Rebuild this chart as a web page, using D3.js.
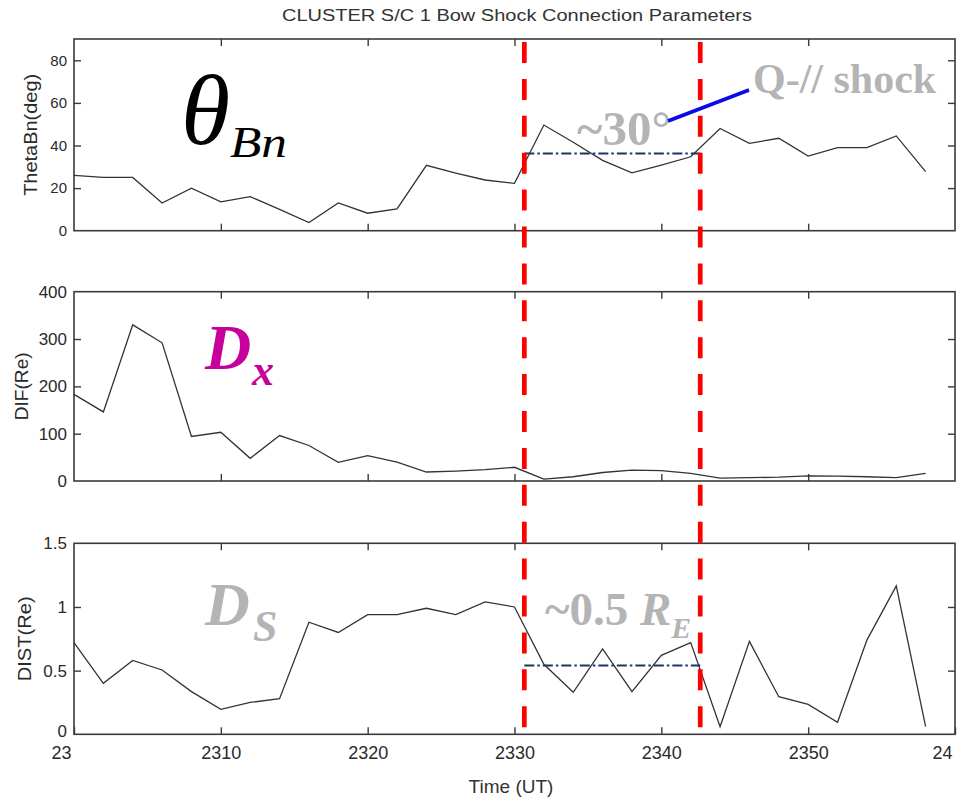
<!DOCTYPE html>
<html>
<head>
<meta charset="utf-8">
<script src="https://cdn.jsdelivr.net/npm/d3@7"></script>
<style>
  html, body { margin: 0; padding: 0; background: #fff; }
  svg { display: block; }
</style>
</head>
<body>
<svg id="chart" width="960" height="798"></svg>
<script>
// ---- Data (minutes after 23:00 UT) ----
const times = [0,2,4,6,8,10,12,14,16,18,20,22,24,26,28,30,32,34,36,38,40,42,44,46,48,50,52,54,56,58];
const thetaBn = [26,25,25,13,20,13.5,16,10,3.8,13,8.2,10.2,30.7,27,23.8,22.2,49.6,41.5,33,27.2,30.8,34.7,48,41,43.4,35,39,39,44.5,27.7];
const difRe  = [183,146,330,292,94,103,48,96,75,39.5,53.5,40,19,21,24,29,4,9,18,23,22,16,6,7,8,11,10.5,9,7,16];
const distRe = [0.72,0.40,0.58,0.505,0.335,0.196,0.25,0.28,0.88,0.80,0.94,0.94,0.99,0.94,1.04,1.0,0.55,0.33,0.67,0.335,0.62,0.72,0.06,0.73,0.295,0.235,0.094,0.74,1.165,0.06];

const xTickValues = [0,10,20,30,40,50,60];
const xTickLabels = ["23","2310","2320","2330","2340","2350","24"];
const thetaTicks = [0,20,40,60,80];
const difTicks = [0,100,200,300,400];
const distTicks = [0,0.5,1,1.5];

const eventTimes = [30.67, 42.65];   // red dashed markers
const thetaRef = 36.3;               // ~30 deg reference level
const distRef = 0.54;                // ~0.5 RE reference level

// ---- Layout ----
const svg = d3.select("#chart");
const left = 74, right = 955;
const x = d3.scaleLinear().domain([0,60]).range([left,right]);

const panels = [
  {top:39, bottom:230.7, domain:[0,90], ticks:thetaTicks, values:thetaBn, label:"ThetaBn(deg)", labelX:37, labelLen:122, tickFont:15},
  {top:291.7, bottom:481, domain:[0,400], ticks:difTicks, values:difRe, label:"DIF(Re)", labelX:28, labelLen:68, tickFont:17},
  {top:543.3, bottom:734.3, domain:[0,1.5], ticks:distTicks, values:distRe, label:"DIST(Re)", labelX:31, labelLen:85, tickFont:17}
];

const sans = "'Liberation Sans', Arial, Helvetica, sans-serif";
const serif = "'Liberation Serif', 'Times New Roman', Times, serif";
const axisColor = "#3a3a3a";

panels.forEach((p, i) => {
  const y = d3.scaleLinear().domain(p.domain).range([p.bottom, p.top]);
  p.y = y;
  const g = svg.append("g");
  const isLast = i === panels.length - 1;

  // left axis (inner ticks)
  const gl = g.append("g").attr("transform", `translate(${left},0)`)
    .call(d3.axisLeft(y).tickValues(p.ticks).tickSize(-7).tickSizeOuter(0).tickPadding(7)
      .tickFormat(d3.format("")));
  // right axis
  const gr = g.append("g").attr("transform", `translate(${right},0)`)
    .call(d3.axisRight(y).tickValues(p.ticks.filter(t => t !== p.domain[0] && t !== p.domain[1])).tickSize(-7).tickSizeOuter(0).tickFormat(""));
  // top axis
  const gt = g.append("g").attr("transform", `translate(0,${p.top})`)
    .call(d3.axisTop(x).tickValues(xTickValues.slice(1,-1)).tickSize(-7).tickSizeOuter(0).tickFormat(""));
  // bottom axis
  const gb = g.append("g").attr("transform", `translate(0,${p.bottom})`)
    .call(d3.axisBottom(x).tickValues(isLast ? xTickValues : xTickValues.slice(1,-1)).tickSize(-7).tickSizeOuter(0).tickPadding(12)
      .tickFormat(isLast ? ((d) => xTickLabels[xTickValues.indexOf(d)]) : ""));

  [gl, gr, gt, gb].forEach(a => {
    a.select(".domain").remove();
    a.selectAll(".tick line").attr("stroke", axisColor).attr("stroke-width", 1.4);
    a.selectAll(".tick text").attr("fill", "#2a2a2a").attr("font-family", sans);
  });
  gl.selectAll(".tick text").attr("font-size", p.tickFont);
  if (isLast) {
    gl.selectAll(".tick").filter(d => d === p.domain[0]).select("text")
      .attr("transform", "translate(0,-3)");
  }
  gb.selectAll(".tick text").attr("font-size", 18)
    .attr("dx", d => (xTickLabels[xTickValues.indexOf(d)] || "").length === 2 ? -13 : 0);
  gl.selectAll(".tick").filter(d => d === p.domain[0] || d === p.domain[1]).select("line").remove();

  // frame
  g.append("rect").attr("x", left).attr("y", p.top)
    .attr("width", right - left).attr("height", p.bottom - p.top)
    .attr("fill", "none").attr("stroke", axisColor).attr("stroke-width", 1.6);

  // y label
  g.append("text")
    .attr("transform", `translate(${p.labelX},${(p.top + p.bottom) / 2}) rotate(-90)`)
    .attr("text-anchor", "middle").attr("font-family", sans).attr("font-size", 18)
    .attr("textLength", p.labelLen).attr("lengthAdjust", "spacingAndGlyphs")
    .attr("fill", "#2a2a2a").text(p.label);

  // data line
  const line = d3.line().x((d, k) => x(times[k])).y(d => y(d));
  g.append("path").datum(p.values).attr("d", line)
    .attr("fill", "none").attr("stroke", "#333").attr("stroke-width", 1.3);
});

// reference dash-dot lines
const refs = [{panel:0, v:thetaRef}, {panel:2, v:distRef}];
refs.forEach(r => {
  const y = panels[r.panel].y;
  svg.append("line")
    .attr("x1", x(eventTimes[0])).attr("x2", x(eventTimes[1]))
    .attr("y1", y(r.v)).attr("y2", y(r.v))
    .attr("stroke", "#103a66").attr("stroke-width", 2)
    .attr("stroke-dasharray", "10,3,2.5,3");
});

// red dashed event markers
eventTimes.forEach(t => {
  svg.append("line")
    .attr("x1", x(t)).attr("x2", x(t))
    .attr("y1", 42).attr("y2", 728)
    .attr("stroke", "#ff0000").attr("stroke-width", 4.7)
    .attr("stroke-dasharray", "21,15.9");
});

// title
svg.append("text").attr("x", 517).attr("y", 21).attr("text-anchor", "middle")
  .attr("font-family", sans).attr("font-size", 16).attr("fill", "#333")
  .attr("textLength", 470).attr("lengthAdjust", "spacingAndGlyphs")
  .text("CLUSTER  S/C 1  Bow Shock Connection Parameters");

// x label
svg.append("text").attr("x", 511).attr("y", 793).attr("text-anchor", "middle")
  .attr("font-family", sans).attr("font-size", 19).attr("fill", "#333")
  .text("Time (UT)");

// annotations
const grey = "#b4b4b4";
svg.append("text").attr("x", 181).attr("y", 144).attr("font-family", serif)
  .attr("font-style", "italic").attr("font-size", 100).attr("fill", "#000").text("θ");
svg.append("text").attr("x", 230).attr("y", 157).attr("font-family", serif)
  .attr("font-style", "italic").attr("font-size", 44).attr("fill", "#000")
  .attr("textLength", 57).attr("lengthAdjust", "spacingAndGlyphs").text("Bn");

svg.append("text").attr("x", 205).attr("y", 369).attr("font-family", serif)
  .attr("font-style", "italic").attr("font-weight", "bold").attr("font-size", 64).attr("fill", "#c8009b").text("D");
svg.append("text").attr("x", 252).attr("y", 385).attr("font-family", serif)
  .attr("font-style", "italic").attr("font-weight", "bold").attr("font-size", 44).attr("fill", "#c8009b").text("x");

svg.append("text").attr("x", 205).attr("y", 625).attr("font-family", serif)
  .attr("font-style", "italic").attr("font-weight", "bold").attr("font-size", 62).attr("fill", grey).text("D");
svg.append("text").attr("x", 253).attr("y", 641).attr("font-family", serif)
  .attr("font-style", "italic").attr("font-weight", "bold").attr("font-size", 44).attr("fill", grey).text("S");

svg.append("text").attr("x", 577).attr("y", 145).attr("font-family", serif)
  .attr("font-weight", "bold").attr("font-size", 49).attr("fill", grey).text("~30°");

svg.append("line").attr("x1", 668).attr("y1", 121).attr("x2", 749).attr("y2", 90)
  .attr("stroke", "#0a0ae8").attr("stroke-width", 3.6);

svg.append("text").attr("x", 753).attr("y", 93).attr("font-family", serif)
  .attr("font-weight", "bold").attr("font-size", 42).attr("fill", grey).text("Q-// shock");

const re = svg.append("text").attr("x", 545).attr("y", 625).attr("font-family", serif)
  .attr("font-weight", "bold").attr("font-size", 47).attr("fill", grey);
re.append("tspan").text("~0.5 ");
re.append("tspan").attr("font-style", "italic").text("R");
re.append("tspan").attr("font-style", "italic").attr("font-size", 30).attr("dy", 13).text("E");
</script>
</body>
</html>
